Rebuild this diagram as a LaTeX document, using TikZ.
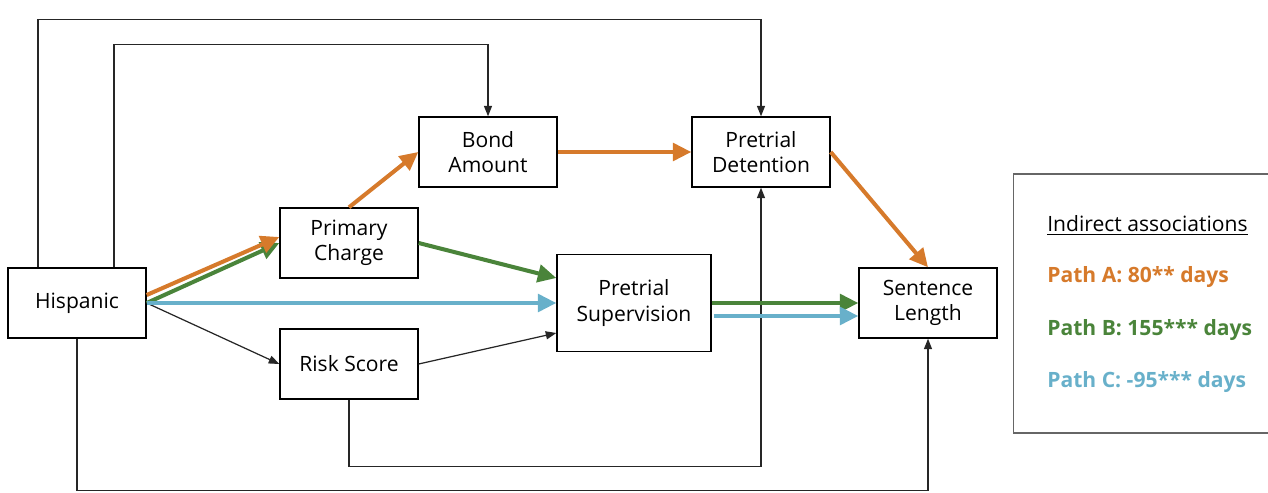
\documentclass[tikz,border=0pt]{standalone}
\usepackage{fontspec}
\setmainfont{Open Sans}
\usetikzlibrary{arrows.meta, positioning, calc}
\definecolor{pathA}{RGB}{214,122,43}
\definecolor{pathB}{RGB}{74,132,58}
\definecolor{pathC}{RGB}{104,176,202}

\begin{document}
\begin{tikzpicture}[x=0.02cm, y=-0.02cm,
    box/.style={draw, line width=0.8pt, minimum width=2.76cm, minimum height=1.4cm, align=center, font=\fontsize{12}{14.5}\selectfont, inner sep=2pt},
    link/.style={-{Triangle[length=6pt, width=4.6pt]}, line width=0.7pt, black!85},
    pathline/.style={-{Triangle[length=10.5pt, width=10pt]}, line width=2.3pt},
    legtext/.style={anchor=base west, font=\fontsize{12}{14.5}\selectfont, inner sep=0pt}]
    \useasboundingbox (0,0) rectangle (1268,493);

    % variables
    \node[box] (hisp) at (77,303) {Hispanic};
    \node[box] (charge) at (349,243) {Primary\\Charge};
    \node[box] (risk) at (349,364) {Risk Score};
    \node[box] (bond) at (488,152) {Bond\\Amount};
    \node[box] (detain) at (761,152) {Pretrial\\Detention};
    \node[box, minimum width=3.08cm, minimum height=1.94cm] (superv) at (634,303) {Pretrial\\Supervision};
    \node[box] (sentence) at (928,303) {Sentence\\Length};

    % direct effects
    \draw[link] ([xshift=-0.78cm]hisp.north) |- ([yshift=1.94cm]detain.north) -- (detain.north);
    \draw[link] ([xshift=0.74cm]hisp.north) |- ([yshift=1.44cm]bond.north) -- (bond.north);
    \draw[link] (hisp.south) |- ([yshift=-3.04cm]sentence.south) -- (sentence.south);
    \draw[link] (risk.south) -- ([yshift=-1.34cm]risk.south) -| (detain.south);
    \draw[link] (hisp.east) -- (risk.west);
    \draw[link] (risk.east) -- ([yshift=-0.6cm]superv.west);

    % indirect paths
    \draw[pathline, pathB] (hisp.east) -- (charge.west);
    \draw[pathline, pathA] ([yshift=0.16cm]hisp.east) -- ([yshift=0.12cm]charge.west);
    \draw[pathline, pathC] (hisp.east) -- (superv.west);
    \draw[pathline, pathA] (charge.north) -- (bond.west);
    \draw[pathline, pathA] (bond.east) -- (detain.west);
    \draw[pathline, pathA] (detain.east) -- (sentence.north);
    \draw[pathline, pathB] (charge.east) -- ([yshift=0.5cm]superv.west);
    \draw[pathline, pathB] (superv.east) -- (sentence.west);
    \draw[pathline, pathC] ([xshift=0.04cm, yshift=-0.26cm]superv.east) -- ([yshift=-0.26cm]sentence.west);

    % legend
    \node[draw=black!60, line width=0.8pt, minimum width=5.1cm, minimum height=5.18cm] (legend) at (1141,303.5) {};
    \node[legtext] (legtitle) at (1047,232) {\underline{Indirect associations}};
    \node[legtext, text=pathA, font=\fontsize{12}{14.5}\selectfont\bfseries] (legA) at (1047,283) {Path A: 80** days};
    \node[legtext, text=pathB, font=\fontsize{12}{14.5}\selectfont\bfseries] (legB) at (1047,336) {Path B: 155*** days};
    \node[legtext, text=pathC, font=\fontsize{12}{14.5}\selectfont\bfseries] (legC) at (1047,387) {Path C: -95*** days};
\end{tikzpicture}
\end{document}
